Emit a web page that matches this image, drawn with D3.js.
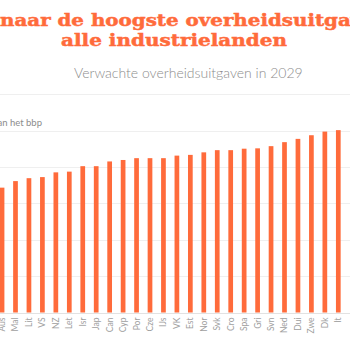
<!DOCTYPE html>
<html>
<head>
<meta charset="utf-8">
<script src="https://cdn.jsdelivr.net/npm/d3@7"></script>
<style>
  html, body { margin: 0; padding: 0; background: #fff; overflow: hidden; }
  svg { display: block; }
</style>
</head>
<body>
<svg id="chart" width="350" height="350"></svg>
<script>
const titleLines = ["naar de hoogste overheidsuitgaven van", "alle industrielanden"];
const subtitle = "Verwachte overheidsuitgaven in 2029";
const axisLabel = "in % van het bbp";
const countries = ["Aus","Mal","Lit","VS","NZ","Let","Isr","Jap","Can","Cyp","Por","Cze","IJs","VK","Est","Nor","Svk","Cro","Spa","Gri","Svn","Ned","Dui","Zwe","Dk","It"];
const values = [34.3,36.1,36.9,37.2,38.5,38.7,40.2,40.2,41.5,41.9,42.4,42.4,42.4,43.1,43.3,44.0,44.6,44.6,45.0,45.1,45.7,46.8,47.7,48.7,49.7,50.1];
const yTicks = [0,10,20,30,40,50,60];

const svg = d3.select("#chart");
const orange = "#ff6b3b";

svg.append("rect").attr("width",350).attr("height",350).attr("fill","#fff");

// title (wide heavy serif: stretch horizontally)
function titleText(str) {
  return svg.append("text").attr("x",0).attr("y",0)
    .attr("font-family","DejaVu Serif").attr("font-weight","bold").attr("font-size",17.5)
    .attr("fill",orange).attr("stroke",orange).attr("stroke-width",0.5)
    .text(str);
}
const t1 = titleText(titleLines[0]);
const len1 = t1.node().getSubStringLength(0, 30);
const s1 = 351 / len1;
t1.attr("transform", `translate(0,25.5) scale(${s1},1)`);

const t2 = titleText(titleLines[1]);
const len2 = t2.node().getComputedTextLength();
const s2 = 226 / len2;
t2.attr("text-anchor","middle").attr("transform", `translate(174,45.5) scale(${s2},1)`);

// subtitle
svg.append("text").attr("x",74).attr("y",78)
  .attr("font-family","Lato").attr("font-weight",300).attr("font-size",14)
  .attr("fill","#8c8c8c").text(subtitle);

const x = d3.scaleBand().domain(countries).range([-4.675, 345.025])
  .paddingInner(0.65).paddingOuter(0.325);
const y = d3.scaleLinear().domain([0,60]).range([312.5, 94.1]);

// gridlines
svg.append("g").selectAll("line").data(yTicks).join("line")
  .attr("x1",0).attr("x2",350)
  .attr("y1",d=>Math.round(y(d))+0.5).attr("y2",d=>Math.round(y(d))+0.5)
  .attr("stroke",d=>d===0?"#e2e2e2":"#efefef").attr("stroke-width",1);

// axis label
svg.append("text").attr("x",42).attr("y",126).attr("text-anchor","end")
  .attr("font-family","Lato").attr("font-size",9.5).attr("fill","#8c8c8c").text(axisLabel);

// bars
svg.append("g").selectAll("rect").data(countries).join("rect")
  .attr("x",d=>x(d)).attr("width",x.bandwidth())
  .attr("y",(d,i)=>y(values[i])).attr("height",(d,i)=>y(0)-y(values[i]))
  .attr("fill",orange);

// x axis labels
const xAxis = d3.axisBottom(x).tickSize(0).tickPadding(0);
const gx = svg.append("g").attr("transform","translate(0,312.5)").call(xAxis);
gx.select(".domain").remove();
gx.selectAll("text")
  .attr("transform","rotate(-90)")
  .attr("x",-5).attr("y",0).attr("dy","0.35em")
  .attr("text-anchor","end")
  .attr("font-family","Lato").attr("font-size",8.5).attr("fill","#a0a0a0");
</script>
</body>
</html>
